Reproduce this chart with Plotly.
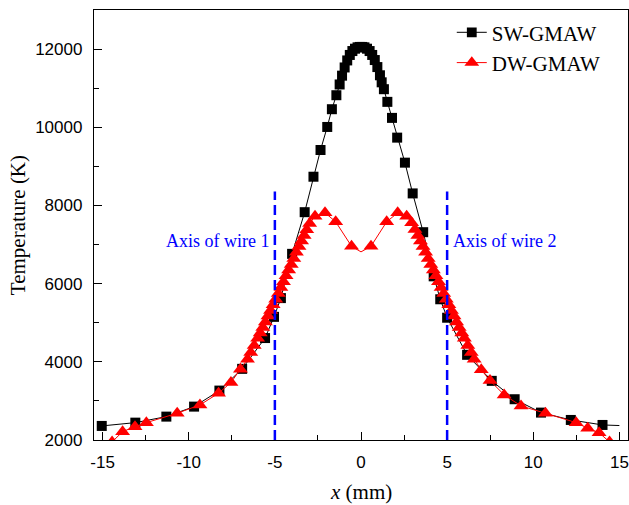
import plotly.graph_objects as go

# SW-GMAW (single wire) temperature profile
sw_x = [-15.05, -13.1, -11.3, -9.69, -8.22, -6.9, -5.57, -5.05, -4.65, -4.0, -3.27, -2.76,
        -2.35, -1.96, -1.69, -1.43, -1.24, -1.1, -0.95, -0.8, -0.65, -0.5, -0.35, -0.2,
        -0.07, 0.07, 0.2, 0.35, 0.5, 0.65, 0.8, 0.95, 1.1, 1.2, 1.33, 1.53, 1.8, 2.1,
        2.55, 3.0, 3.61, 4.22, 4.6, 5.0, 6.16, 7.59, 8.92, 10.45, 12.18, 14.02, 15.0]
sw_y = [2360, 2444, 2598, 2854, 3264, 3820, 4608, 5150, 5630, 6762, 7828, 8735,
        9418, 10008, 10462, 10820, 11095, 11320, 11530, 11710, 11850, 11950, 12010, 12045,
        12055, 12055, 12045, 12010, 11950, 11850, 11720, 11540, 11330, 11150, 10974, 10650, 10240, 9735,
        9095, 8308, 7316, 6187, 5600, 5128, 4179, 3513, 3043, 2701, 2513, 2385, 2370]

# DW-GMAW (double wire) temperature profile
dw_x = [-14.45, -13.84, -13.12, -12.46, -10.67, -9.35, -8.27, -7.55, -7.0, -6.59,
        -6.4, -6.2, -6.0, -5.85, -5.7, -5.55, -5.4, -5.25, -5.1, -4.95, -4.8, -4.65,
        -4.5, -4.35, -4.2, -4.05, -3.9, -3.75, -3.6, -3.45, -3.3, -3.15, -2.98, -2.67,
        -2.09, -1.47, -0.55, 0.0, 0.58, 1.49, 2.13, 2.65, 2.94, 3.13, 3.3, 3.45, 3.6,
        3.75, 3.9, 4.05, 4.2, 4.35, 4.5, 4.65, 4.8, 4.95, 5.1, 5.25, 5.4, 5.55, 5.7,
        5.85, 6.0, 6.2, 6.4, 6.57, 6.98, 7.49, 8.31, 9.29, 10.71, 12.49, 13.16, 13.82, 14.43]
dw_y = [1950, 2213, 2342, 2444, 2684, 2897, 3197, 3470, 3812, 4068,
        4240, 4420, 4600, 4740, 4880, 5020, 5170, 5310, 5460, 5600, 5750, 5900,
        6050, 6200, 6350, 6490, 6640, 6800, 6950, 7090, 7230, 7380, 7540, 7726,
        7813, 7582, 6957, 6812, 6957, 7582, 7813, 7726, 7556, 7385, 7230, 7090, 6950,
        6800, 6640, 6490, 6350, 6200, 6050, 5900, 5750, 5600, 5460, 5310, 5170, 5020, 4880,
        4740, 4600, 4420, 4240, 4068, 3795, 3521, 3154, 2872, 2684, 2444, 2300, 2187, 1950]

# Wire axes
wire_x = [-5, 5]
wire_labels = ["Axis of wire 1", "Axis of wire 2"]
wire_top = 8360
wire_label_y = 7080

x_ticks = [-15, -10, -5, 0, 5, 10, 15]
x_ticktext = ["-15", "-10", "-5", "0", "5", "10", "15"]
y_ticks = [2000, 4000, 6000, 8000, 10000, 12000]
y_ticktext = ["2000", "4000", "6000", "8000", "10000", "12000"]

serif = "Liberation Serif, Times New Roman, serif"
sans = "Liberation Sans, Arial, sans-serif"

sw_sizes = [10] * len(sw_x)
sw_sizes[-1] = 0
dw_sizes = [13] * len(dw_x)
dw_sizes[dw_x.index(0.0)] = 0

fig = go.Figure()
fig.add_trace(go.Scatter(
    x=sw_x, y=sw_y, mode="lines+markers", name="SW-GMAW",
    line=dict(color="black", width=1),
    marker=dict(symbol="square", size=sw_sizes, color="black", opacity=1,
                line=dict(width=0)),
))
fig.add_trace(go.Scatter(
    x=dw_x, y=dw_y, mode="lines+markers", name="DW-GMAW",
    line=dict(color="red", width=1),
    marker=dict(symbol="triangle-up", size=dw_sizes, color="red", opacity=1,
                line=dict(width=0)),
))

for wx in wire_x:
    fig.add_shape(type="line", x0=wx, x1=wx, y0=2000, y1=wire_top, xref="x", yref="y",
                  line=dict(color="#0000FF", width=2.5, dash="10px,5px"), layer="above")

fig.add_annotation(x=wire_x[0], y=wire_label_y, text=wire_labels[0], showarrow=False,
                   xanchor="right", xshift=-4, font=dict(family=serif, size=18, color="#0000FF"))
fig.add_annotation(x=wire_x[1], y=wire_label_y, text=wire_labels[1], showarrow=False,
                   xanchor="left", xshift=4, font=dict(family=serif, size=18, color="#0000FF"))

# axis titles
fig.add_annotation(xref="paper", yref="paper", x=0.5, y=-0.121, text="<i>x</i> (mm)",
                   showarrow=False, xanchor="center", yanchor="middle",
                   font=dict(family=serif, size=21, color="black"))
fig.add_annotation(xref="paper", yref="paper", x=-0.142, y=0.5, text="Temperature (K)",
                   showarrow=False, textangle=-90, xanchor="center", yanchor="middle",
                   font=dict(family=serif, size=21, color="black"))

fig.update_xaxes(range=[-15.5, 15.5], tickvals=x_ticks, ticktext=x_ticktext, ticks="inside",
                 ticklen=8, tickwidth=1.3, tickcolor="black", showline=True, linecolor="black",
                 linewidth=1.3, mirror=True, showgrid=False, zeroline=False,
                 tickfont=dict(family=sans, size=17, color="black"), ticklabelstandoff=6,
                 minor=dict(ticks="inside", ticklen=5, tickwidth=1.3, tickcolor="black",
                            tick0=-12.5, dtick=5, showgrid=False))
fig.update_yaxes(range=[2000, 13000], tickvals=y_ticks, ticktext=y_ticktext, ticks="inside",
                 ticklen=8, tickwidth=1.3, tickcolor="black", showline=True, linecolor="black",
                 linewidth=1.3, mirror=True, showgrid=False, zeroline=False,
                 tickfont=dict(family=sans, size=17, color="black"), ticklabelstandoff=7,
                 minor=dict(ticks="inside", ticklen=5, tickwidth=1.3, tickcolor="black",
                            tick0=3000, dtick=2000, showgrid=False))

fig.update_layout(
    width=629, height=505,
    margin=dict(l=94, r=1, t=10, b=65),
    plot_bgcolor="white", paper_bgcolor="white",
    showlegend=True,
    legend=dict(x=0.67, y=0.995, xanchor="left", yanchor="top", bgcolor="rgba(0,0,0,0)",
                font=dict(family=serif, size=21, color="black"), tracegroupgap=0),
)

fig.write_html("out.html")
